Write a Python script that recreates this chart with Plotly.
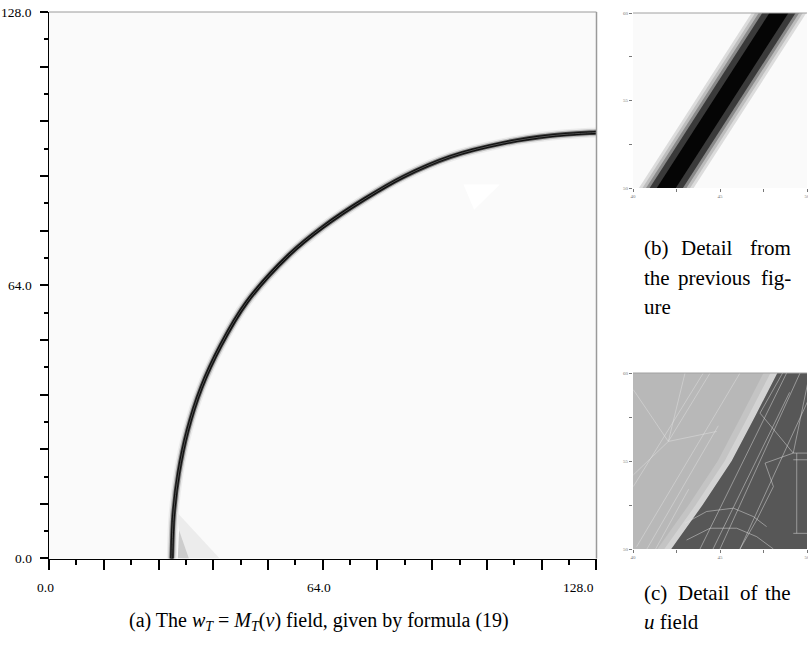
import plotly.graph_objects as go

# ---------------- data ----------------
# main panel: interface arc
arc_x = [28.6, 28.7, 29.1, 30.3, 32.4, 35.6, 40.2, 46.2, 56.0, 64.1, 73.8, 83.0, 93.8, 106.2, 117.1, 128.0, 132.0]
arc_y = [-3.0, 0.0, 10.0, 20.0, 30.0, 40.0, 50.0, 60.0, 71.0, 77.7, 84.2, 89.5, 94.1, 97.3, 99.0, 99.8, 100.0]

# light gray mesh patches near the bottom of the arc
patch1_x = [29.9, 39.9, 31.1, 29.9]
patch1_y = [10.8, 0.0, 0.0, 10.8]
patch2_x = [30.4, 32.7, 30.1, 30.4]
patch2_y = [6.6, 0.0, 0.0, 6.6]
# white triangle
white_x = [96.9, 105.4, 99.4, 96.9]
white_y = [87.6, 87.6, 81.7, 87.6]

major_ticks = [0.0, 12.8, 25.6, 38.4, 51.2, 64.0, 76.8, 89.6, 102.4, 115.2, 128.0]
minor_ticks = [6.4, 19.2, 32.0, 44.8, 57.6, 70.4, 83.2, 96.0, 108.8, 121.6]
label_vals = [0.0, 64.0, 128.0]
label_text = ["0.0", "64.0", "128.0"]

# panel (b): band centre line (detail)
band_x = [41.2, 49.1]
band_y = [48.9, 61.1]
band_widths = [46, 40, 34, 28, 16]
band_colors = ["#dcdcdc", "#bdbdbd", "#8a8a8a", "#3a3a3a", "#050505"]

# panel (c): regions of the u field
c_bg_x = [40, 50, 50, 40, 40]
c_bg_y = [50, 50, 60, 60, 50]
bound_x = [42.2, 44.0, 45.67, 47.0, 48.3]
bound_y = [50.0, 52.5, 55.0, 57.5, 60.0]
strip_outer = 0.8
strip_inner = 0.4
mesh_segments = [
    [(40.02, 59.05), (42.03, 56.11)],
    [(42.03, 56.11), (40.02, 54.21)],
    [(42.03, 56.11), (44.81, 56.68)],
    [(42.03, 56.11), (44.43, 60.0)],
    [(42.03, 56.11), (42.99, 60.0)],
    [(40.21, 50.13), (46.15, 60.0)],
    [(40.02, 53.55), (44.04, 60.0)],
    [(40.8, 50.0), (44.9, 57.0)],
    [(41.3, 50.0), (43.2, 53.4)],
    [(49.21, 55.45), (50.08, 55.45)],
    [(49.21, 55.07), (50.08, 55.07)],
    [(49.41, 55.45), (49.41, 50.89)],
    [(49.21, 50.89), (50.08, 50.89)],
    [(49.21, 55.45), (47.3, 57.72)],
    [(49.21, 55.45), (47.59, 54.88), (48.07, 53.55), (47.11, 51.65), (46.15, 50.0)],
    [(49.21, 55.45), (50.08, 59.62)],
    [(43.85, 50.0), (48.83, 60.0)],
    [(45.0, 50.0), (49.6, 60.0)],
    [(46.15, 50.0), (50.08, 58.48)],
    [(44.6, 50.0), (49.0, 58.9)],
    [(42.99, 51.46), (44.23, 52.13), (45.77, 52.32), (46.92, 51.84), (47.68, 51.27)],
    [(43.08, 50.51), (44.43, 51.18), (45.96, 51.18), (47.11, 50.7), (48.07, 50.0)],
    [(47.3, 57.72), (48.6, 60.0)],
]

detail_ticks = [40, 45, 50]
detail_text = ["40", "45", "50"]
detail_minor = [42.5, 47.5]
detail_yticks = [50, 55, 60]
detail_ytext = ["50", "55", "60"]
detail_yminor = [52.5, 57.5]

# ---------------- figure ----------------
fig = go.Figure()

# main panel
fig.add_trace(go.Scatter(x=patch1_x, y=patch1_y, fill="toself", fillcolor="#ececec",
                         mode="none", xaxis="x", yaxis="y", hoverinfo="skip"))
fig.add_trace(go.Scatter(x=patch2_x, y=patch2_y, fill="toself", fillcolor="#cdcdcd",
                         mode="none", xaxis="x", yaxis="y", hoverinfo="skip"))
fig.add_trace(go.Scatter(x=white_x, y=white_y, fill="toself", fillcolor="#ffffff",
                         mode="none", xaxis="x", yaxis="y", hoverinfo="skip"))
for w, c in [(10, "#ececec"), (7, "#bdbdbd"), (4.5, "#404040"), (2.8, "#0a0a0a"), (0.8, "#606060")]:
    fig.add_trace(go.Scatter(x=arc_x, y=arc_y, mode="lines",
                             line=dict(color=c, width=w, shape="spline", smoothing=1.0),
                             xaxis="x", yaxis="y", hoverinfo="skip"))

# panel (b)
for w, c in zip(band_widths, band_colors):
    fig.add_trace(go.Scatter(x=band_x, y=band_y, mode="lines", line=dict(color=c, width=w),
                             xaxis="x2", yaxis="y2", hoverinfo="skip"))

# panel (c)
fig.add_trace(go.Scatter(x=c_bg_x, y=c_bg_y, fill="toself", fillcolor="#b8b8b8", mode="none",
                         xaxis="x3", yaxis="y3", hoverinfo="skip"))
outer_x = [v - strip_outer for v in bound_x]
inner_x = [v - strip_inner for v in bound_x]
fig.add_trace(go.Scatter(x=outer_x + bound_x[::-1] + [outer_x[0]],
                         y=bound_y + bound_y[::-1] + [bound_y[0]],
                         fill="toself", fillcolor="#c4c4c4", mode="none",
                         xaxis="x3", yaxis="y3", hoverinfo="skip"))
fig.add_trace(go.Scatter(x=inner_x + bound_x[::-1] + [inner_x[0]],
                         y=bound_y + bound_y[::-1] + [bound_y[0]],
                         fill="toself", fillcolor="#d3d3d3", mode="none",
                         xaxis="x3", yaxis="y3", hoverinfo="skip"))
fig.add_trace(go.Scatter(x=bound_x + [50, 50, bound_x[0]], y=bound_y + [60, 50, bound_y[0]],
                         fill="toself", fillcolor="#575757", mode="none",
                         xaxis="x3", yaxis="y3", hoverinfo="skip"))
mx, my = [], []
for seg in mesh_segments:
    for (a, b) in seg:
        mx.append(a)
        my.append(b)
    mx.append(None)
    my.append(None)
fig.add_trace(go.Scatter(x=mx, y=my, mode="lines", line=dict(color="rgba(225,225,225,0.6)", width=0.8),
                         xaxis="x3", yaxis="y3", hoverinfo="skip"))

serif = "Liberation Serif, Times New Roman, serif"
W, H = 808, 660

def px_x(p):
    return p / W

def px_y(p):
    return 1 - p / H

main_axis_common = dict(showgrid=False, zeroline=False, showline=True, linecolor="black", linewidth=1,
                        ticks="outside", tickcolor="black", tickwidth=1.5, automargin=False,
                        showticklabels=False, tickmode="array", tickvals=major_ticks,
                        range=[-0.01, 128.01], fixedrange=True)

detail_axis = dict(showgrid=False, zeroline=False, showline=False, ticks="outside", ticklen=3,
                   tickcolor="#777", tickwidth=1, tickfont=dict(family=serif, size=5, color="#777"),
                   tickmode="array", fixedrange=True, automargin=False, ticklabeloverflow="allow")
detail_minor_x = dict(tickvals=detail_minor, ticks="outside", ticklen=3, tickcolor="#777", tickwidth=1)
detail_minor_y = dict(tickvals=detail_yminor, ticks="outside", ticklen=3, tickcolor="#777", tickwidth=1)

fig.update_layout(
    width=W, height=H, margin=dict(l=0, r=0, t=0, b=0, autoexpand=False),
    paper_bgcolor="white", plot_bgcolor="#fafafa", showlegend=False,
    xaxis=dict(main_axis_common, domain=[px_x(49), px_x(596.5)], anchor="y", ticklen=10,
               minor=dict(tickvals=minor_ticks, ticks="outside", ticklen=5, tickcolor="black", tickwidth=1.5)),
    yaxis=dict(main_axis_common, domain=[px_y(558.5), px_y(12)], anchor="x", ticklen=8,
               minor=dict(tickvals=minor_ticks, ticks="outside", ticklen=4, tickcolor="black", tickwidth=1.5)),
    xaxis2=dict(detail_axis, domain=[px_x(633), px_x(807)], anchor="y2", range=[40, 50],
                tickvals=detail_ticks, ticktext=detail_text, minor=detail_minor_x),
    yaxis2=dict(detail_axis, domain=[px_y(188), px_y(13)], anchor="x2", range=[50, 60],
                tickvals=detail_yticks, ticktext=detail_ytext, minor=detail_minor_y),
    xaxis3=dict(detail_axis, domain=[px_x(633), px_x(807)], anchor="y3", range=[40, 50],
                tickvals=detail_ticks, ticktext=detail_text, minor=detail_minor_x),
    yaxis3=dict(detail_axis, domain=[px_y(549), px_y(373)], anchor="x3", range=[50, 60],
                tickvals=detail_yticks, ticktext=detail_ytext, minor=detail_minor_y),
)

# frames (gray top / right borders)
shapes = [
    dict(type="line", xref="x domain", yref="y domain", x0=0, x1=1, y0=1, y1=1,
         line=dict(color="#9a9a9a", width=1)),
    dict(type="line", xref="x domain", yref="y domain", x0=1, x1=1, y0=0, y1=1,
         line=dict(color="#9a9a9a", width=1.5)),
    dict(type="line", xref="x2 domain", yref="y2 domain", x0=0, x1=1, y0=1, y1=1,
         line=dict(color="#a0a0a0", width=1)),
    dict(type="line", xref="x3 domain", yref="y3 domain", x0=0, x1=1, y0=1, y1=1,
         line=dict(color="#a0a0a0", width=1)),
]
fig.update_layout(shapes=shapes)

cap_a = dict(family=serif, size=20, color="black")
cap_b = dict(family=serif, size=21, color="black")
tick_font = dict(family=serif, size=13.5, color="black")

def word(text, x, y, anchor="left", font=cap_b):
    return dict(text=text, x=px_x(x), y=px_y(y), xref="paper", yref="paper",
                xanchor=anchor, yanchor="middle", showarrow=False, font=font)

annotations = [
    word("(a) The <i>w</i><sub><i>T</i></sub> = <i>M</i><sub><i>T</i></sub>(<i>v</i>) field, given by formula (19)",
         319, 621, "center", cap_a),
    word("(b)", 641.5, 248), word("Detail", 679, 248), word("from", 793, 248, "right"),
    word("the", 641.5, 278), word("previous", 676, 278), word("fig-", 793, 278, "right"),
    word("ure", 641.5, 307),
    word("(c)", 641.5, 593), word("Detail", 676, 593), word("of", 738, 593), word("the", 793, 593, "right"),
    word("<i>u</i> field", 641.5, 622),
]
# tick labels of the main panel
for v, t in zip(label_vals, label_text):
    annotations.append(dict(text=t, x=px_x(34), y=v, xref="paper", yref="y", xanchor="right",
                            yanchor="middle", showarrow=False, font=tick_font))
x_label_anchor = ["center", "center", "right"]
x_label_shift = [-4, -4, 0]
for v, t, a, s in zip(label_vals, label_text, x_label_anchor, x_label_shift):
    annotations.append(dict(text=t, x=v, y=px_y(587), xref="x", yref="paper", xanchor=a, xshift=s,
                            yanchor="middle", showarrow=False, font=tick_font))
fig.update_layout(annotations=annotations)

fig.write_html("out.html")
